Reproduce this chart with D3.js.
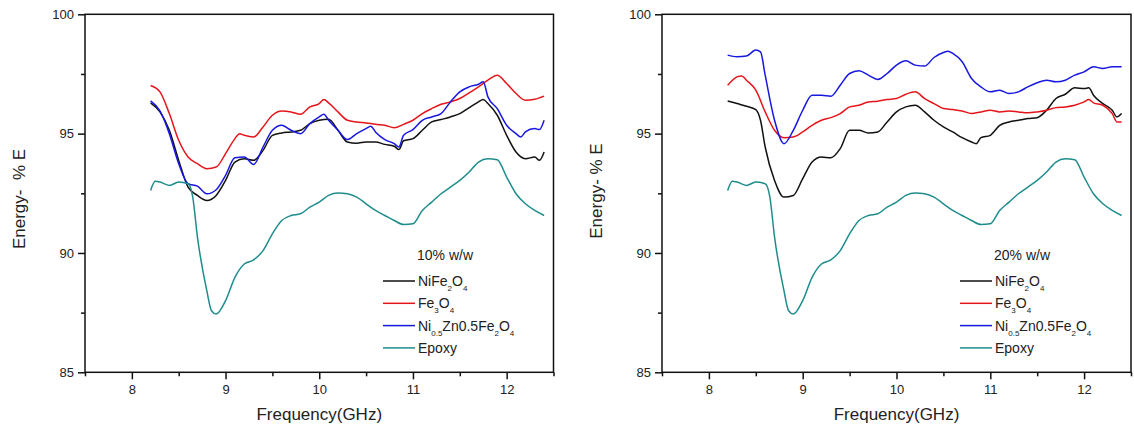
<!DOCTYPE html>
<html>
<head>
<meta charset="utf-8">
<script src="https://cdn.jsdelivr.net/npm/d3@7"></script>
<style>
  body { margin: 0; background: #fff; }
  svg { display: block; font-family: "Liberation Sans", Arial, sans-serif; }
</style>
</head>
<body>
<div id="chart"></div>
<script>
// --- data: [frequency GHz, % E] ---
const ni10 = [[8.2,96.29],[8.3,95.91],[8.4,95.14],[8.5,93.88],[8.6,92.76],[8.7,92.41],[8.8,92.2],[8.9,92.41],[9.0,93.04],[9.1,93.81],[9.2,93.95],[9.3,93.88],[9.4,94.3],[9.5,94.93],[9.6,95.03],[9.7,95.07],[9.8,95.14],[9.9,95.42],[10.0,95.56],[10.1,95.6],[10.2,95.14],[10.3,94.65],[10.4,94.6],[10.5,94.65],[10.6,94.65],[10.7,94.55],[10.8,94.47],[10.85,94.33],[10.9,94.7],[11.0,94.79],[11.1,95.14],[11.2,95.49],[11.3,95.59],[11.4,95.7],[11.5,95.84],[11.6,96.09],[11.7,96.33],[11.75,96.43],[11.8,96.26],[11.9,95.77],[12.0,94.93],[12.1,94.23],[12.2,93.95],[12.3,94.02],[12.35,93.88],[12.4,94.23]];
const fe10 = [[8.2,97.02],[8.3,96.75],[8.4,95.84],[8.5,94.72],[8.6,94.02],[8.7,93.74],[8.8,93.53],[8.9,93.6],[9.0,94.16],[9.1,94.79],[9.15,95.0],[9.2,94.93],[9.3,94.86],[9.4,95.28],[9.5,95.77],[9.6,95.95],[9.7,95.91],[9.8,95.81],[9.9,96.12],[10.0,96.26],[10.05,96.43],[10.1,96.29],[10.2,95.91],[10.3,95.56],[10.4,95.49],[10.5,95.45],[10.6,95.39],[10.7,95.35],[10.8,95.25],[10.9,95.39],[11.0,95.56],[11.1,95.84],[11.2,96.05],[11.3,96.23],[11.4,96.33],[11.5,96.47],[11.6,96.71],[11.7,96.96],[11.8,97.24],[11.9,97.45],[12.0,97.1],[12.1,96.68],[12.2,96.4],[12.3,96.44],[12.4,96.57]];
const nz10 = [[8.2,96.37],[8.3,95.95],[8.4,95.0],[8.5,93.74],[8.6,92.9],[8.7,92.8],[8.8,92.48],[8.9,92.65],[9.0,93.25],[9.1,93.99],[9.2,94.02],[9.3,93.71],[9.4,94.44],[9.5,95.14],[9.6,95.35],[9.7,95.14],[9.8,95.0],[9.9,95.42],[10.0,95.7],[10.05,95.81],[10.1,95.56],[10.2,95.14],[10.3,94.75],[10.4,95.0],[10.5,95.21],[10.55,95.31],[10.6,95.07],[10.7,94.75],[10.8,94.58],[10.85,94.44],[10.9,94.93],[11.0,95.17],[11.1,95.56],[11.2,95.7],[11.3,95.84],[11.4,96.33],[11.5,96.75],[11.6,96.96],[11.7,97.07],[11.75,97.17],[11.8,96.54],[11.9,96.05],[12.0,95.35],[12.1,95.0],[12.15,94.86],[12.2,95.07],[12.3,95.21],[12.35,95.17],[12.4,95.56]];
const ni20 = [[8.2,96.37],[8.3,96.26],[8.4,96.15],[8.5,96.01],[8.55,95.56],[8.6,94.44],[8.7,93.04],[8.8,92.34],[8.9,92.41],[9.0,93.11],[9.1,93.81],[9.2,94.02],[9.3,93.99],[9.4,94.37],[9.5,95.14],[9.6,95.14],[9.7,95.03],[9.8,95.07],[9.9,95.49],[10.0,95.91],[10.1,96.12],[10.2,96.19],[10.3,95.91],[10.4,95.56],[10.5,95.28],[10.6,95.07],[10.7,94.83],[10.8,94.65],[10.85,94.58],[10.9,94.83],[11.0,94.93],[11.1,95.35],[11.2,95.49],[11.3,95.56],[11.4,95.63],[11.5,95.67],[11.6,95.98],[11.7,96.47],[11.8,96.65],[11.9,96.92],[12.0,96.89],[12.05,96.92],[12.1,96.61],[12.2,96.26],[12.3,95.98],[12.35,95.7],[12.4,95.84]];
const fe20 = [[8.2,97.03],[8.3,97.38],[8.35,97.42],[8.4,97.24],[8.5,96.82],[8.6,95.91],[8.7,95.14],[8.8,94.83],[8.9,94.86],[9.0,95.07],[9.1,95.35],[9.2,95.56],[9.3,95.67],[9.4,95.84],[9.5,96.12],[9.6,96.19],[9.7,96.33],[9.8,96.36],[9.9,96.43],[10.0,96.47],[10.1,96.65],[10.2,96.75],[10.3,96.47],[10.4,96.26],[10.5,96.05],[10.6,96.01],[10.7,95.95],[10.8,95.84],[10.9,95.91],[11.0,95.98],[11.1,95.91],[11.2,95.95],[11.3,95.91],[11.4,95.87],[11.5,95.91],[11.6,95.98],[11.7,96.09],[11.8,96.12],[11.9,96.19],[12.0,96.33],[12.05,96.43],[12.1,96.29],[12.2,96.19],[12.3,95.84],[12.35,95.49],[12.4,95.49]];
const nz20 = [[8.2,98.29],[8.3,98.22],[8.4,98.25],[8.5,98.5],[8.55,98.43],[8.6,97.45],[8.7,95.56],[8.8,94.58],[8.9,95.14],[9.0,95.98],[9.1,96.61],[9.2,96.61],[9.3,96.57],[9.4,97.03],[9.5,97.52],[9.6,97.63],[9.7,97.45],[9.8,97.27],[9.9,97.52],[10.0,97.87],[10.1,98.05],[10.2,97.87],[10.3,97.83],[10.4,98.19],[10.5,98.4],[10.55,98.45],[10.6,98.36],[10.7,98.01],[10.8,97.31],[10.9,96.96],[11.0,96.75],[11.1,96.82],[11.2,96.68],[11.3,96.75],[11.4,96.96],[11.5,97.13],[11.6,97.24],[11.7,97.17],[11.8,97.24],[11.9,97.45],[12.0,97.59],[12.1,97.8],[12.2,97.73],[12.3,97.8],[12.4,97.8]];
const epoxy = [[8.2,92.62],[8.25,93.0],[8.3,92.97],[8.4,92.83],[8.5,92.97],[8.6,92.9],[8.65,92.34],[8.7,90.66],[8.8,88.42],[8.85,87.58],[8.9,87.44],[9.0,88.0],[9.1,88.98],[9.2,89.54],[9.3,89.71],[9.4,90.1],[9.5,90.8],[9.6,91.36],[9.7,91.57],[9.8,91.64],[9.9,91.92],[10.0,92.13],[10.1,92.41],[10.2,92.51],[10.3,92.48],[10.4,92.34],[10.5,92.06],[10.6,91.78],[10.7,91.57],[10.8,91.36],[10.9,91.19],[11.0,91.22],[11.1,91.78],[11.2,92.13],[11.3,92.48],[11.4,92.76],[11.5,93.04],[11.6,93.39],[11.7,93.81],[11.8,93.95],[11.9,93.91],[12.0,93.18],[12.1,92.48],[12.2,92.06],[12.3,91.78],[12.4,91.57]];

const xMajor = [8, 9, 10, 11, 12];
const xMinor = [7.5, 8.5, 9.5, 10.5, 11.5, 12.5];
const yMajor = [85, 90, 95, 100];
const yMinor = [87.5, 92.5, 97.5];

// legend labels as [text, subscript?] pieces
const names = [
  [["NiFe", 0], ["2", 1], ["O", 0], ["4", 1]],
  [["Fe", 0], ["3", 1], ["O", 0], ["4", 1]],
  [["Ni", 0], ["0.5", 1], ["Zn0.5Fe", 0], ["2", 1], ["O", 0], ["4", 1]],
  [["Epoxy", 0]]
];
const colors = ["#111111", "#e5161b", "#1717e0", "#1f8c8c"];

const W = 1134, H = 432;
const svg = d3.select("#chart").append("svg").attr("width", W).attr("height", H);

function drawPanel(left, right, series, tag, yTitle, yTitleY) {
  const top = 14.3, bottom = 372.3;
  const x = d3.scaleLinear().domain([7.5, 12.5]).range([left, right]);
  const y = d3.scaleLinear().domain([85, 100]).range([bottom, top]);
  const g = svg.append("g");

  // curves
  const line = d3.line().curve(d3.curveMonotoneX).x(d => x(d[0])).y(d => y(d[1]));
  series.forEach((s, i) => {
    g.append("path")
      .datum(s)
      .attr("fill", "none")
      .attr("stroke", colors[i])
      .attr("stroke-width", 1.5)
      .attr("stroke-linejoin", "round")
      .attr("d", line);
  });

  // frame
  g.append("rect")
    .attr("x", left).attr("y", top)
    .attr("width", right - left).attr("height", bottom - top)
    .attr("fill", "none").attr("stroke", "#111").attr("stroke-width", 1.5);

  // axes
  const styleAxis = sel => {
    sel.select(".domain").remove();
    sel.selectAll("line").attr("stroke", "#111").attr("stroke-width", 1.5);
    sel.selectAll("text").attr("fill", "#222").style("font-size", "13px");
  };
  g.append("g").attr("transform", `translate(0,${bottom})`)
    .call(d3.axisBottom(x).tickValues(xMajor).tickSize(7).tickPadding(5).tickFormat(d3.format("d")))
    .call(styleAxis);
  g.append("g").attr("transform", `translate(0,${bottom})`)
    .call(d3.axisBottom(x).tickValues(xMinor).tickSize(4).tickFormat(""))
    .call(styleAxis);
  g.append("g").attr("transform", `translate(${left},0)`)
    .call(d3.axisLeft(y).tickValues(yMajor).tickSize(7).tickPadding(4).tickFormat(d3.format("d")))
    .call(styleAxis);
  g.append("g").attr("transform", `translate(${left},0)`)
    .call(d3.axisLeft(y).tickValues(yMinor).tickSize(4).tickFormat(""))
    .call(styleAxis);

  // axis titles
  g.append("text")
    .attr("x", (left + right) / 2).attr("y", 420)
    .attr("text-anchor", "middle").attr("fill", "#222")
    .style("font-size", "17px")
    .text("Frequency(GHz)");
  g.append("text")
    .attr("transform", `translate(${left - 60},${yTitleY}) rotate(-90)`)
    .attr("text-anchor", "middle").attr("fill", "#222")
    .style("font-size", "17px").style("white-space", "pre")
    .text(yTitle);

  // legend
  const lx = left + 298;
  g.append("text")
    .attr("x", lx + 34).attr("y", 260)
    .attr("fill", "#222").style("font-size", "14px")
    .text(tag);
  names.forEach((parts, i) => {
    const ly = 281 + i * 22.3;
    g.append("line")
      .attr("x1", lx).attr("x2", lx + 32)
      .attr("y1", ly).attr("y2", ly)
      .attr("stroke", colors[i]).attr("stroke-width", 1.5);
    const t = g.append("text")
      .attr("x", lx + 35).attr("y", ly + 5)
      .attr("fill", "#222").style("font-size", "14px");
    parts.forEach(([txt, sub], k) => {
      const prev = k > 0 ? parts[k - 1][1] : 0;
      t.append("tspan")
        .attr("dy", sub === prev ? 0 : (sub ? 5 : -5))
        .style("font-size", sub ? "8px" : "14px")
        .text(txt);
    });
  });
}

drawPanel(85, 553.5, [ni10, fe10, nz10, epoxy], "10% w/w", "Energy-  % E", 199);
drawPanel(662, 1131, [ni20, fe20, nz20, epoxy], "20% w/w", "Energy- % E", 191);
</script>
</body>
</html>
